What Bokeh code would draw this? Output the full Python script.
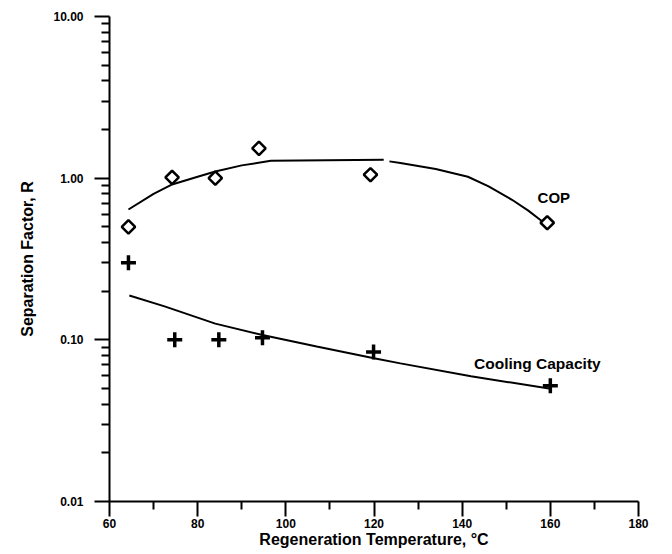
from bokeh.plotting import figure
from bokeh.models import FixedTicker, PrintfTickFormatter, Range1d
from bokeh.embed import file_html
from bokeh.resources import INLINE
from bokeh.core.properties import value

# ---- data ----
cop_x = [64.3, 74.2, 84.0, 93.9, 119.2, 159.3]
cop_y = [0.50, 1.01, 1.00, 1.53, 1.05, 0.53]

cc_x = [64.3, 74.8, 84.8, 94.7, 119.9, 160.0]
cc_y = [0.30, 0.100, 0.100, 0.103, 0.084, 0.052]

cop_fit_a_x = [64.3, 70.0, 74.0, 80.0, 84.0, 90.0, 96.6, 122.2]
cop_fit_a_y = [0.64, 0.80, 0.91, 1.02, 1.10, 1.20, 1.28, 1.30]
cop_fit_b_x = [123.5, 126.0, 134.0, 141.3, 146.0, 151.3, 155.0, 158.2]
cop_fit_b_y = [1.27, 1.24, 1.14, 1.02, 0.89, 0.735, 0.63, 0.54]

cc_fit_x = [64.5, 72.5, 84.0, 94.7, 107.0, 120.0, 126.0, 142.0, 159.7]
cc_fit_y = [0.188, 0.161, 0.126, 0.107, 0.091, 0.077, 0.0715, 0.0595, 0.050]

x_ticks = [60, 80, 100, 120, 140, 160, 180]
x_minor = [70, 90, 110, 130, 150, 170]
y_ticks = [0.01, 0.1, 1.0, 10.0]
y_minor = [m * d for d in (0.01, 0.1, 1.0) for m in range(2, 10)]

FONT = "Liberation Sans"

p = figure(width=660, height=551, y_axis_type="log",
           x_range=Range1d(60, 180), y_range=Range1d(0.01, 10),
           output_backend="svg", toolbar_location=None,
           min_border_left=109, min_border_right=22,
           min_border_top=16, min_border_bottom=50)
p.outline_line_color = None
p.grid.visible = False
p.background_fill_color = "white"

for ax in (p.xaxis[0], p.yaxis[0]):
    ax.axis_line_width = 2
    ax.axis_line_color = "black"
    ax.major_tick_line_width = 2
    ax.minor_tick_line_width = 2
    ax.major_tick_in = 0
    ax.minor_tick_in = 0
    ax.major_tick_out = 15
    ax.minor_tick_out = 8
    ax.major_label_text_font = FONT
    ax.major_label_text_font_style = "bold"
    ax.major_label_text_font_size = "12px"
    ax.major_label_text_color = "black"
    ax.axis_label_text_font = FONT
    ax.axis_label_text_font_style = "bold"
    ax.axis_label_text_font_size = "16px"
    ax.axis_label_text_color = "black"

p.xaxis.ticker = FixedTicker(ticks=x_ticks, minor_ticks=x_minor)
p.yaxis.ticker = FixedTicker(ticks=y_ticks, minor_ticks=y_minor)
p.yaxis.formatter = PrintfTickFormatter(format="%.2f")
p.xaxis.axis_label = "Regeneration Temperature, °C"
p.yaxis.axis_label = "Separation Factor, R"
p.xaxis.major_label_standoff = 2
p.xaxis.axis_label_standoff = 0
p.yaxis.major_label_standoff = 11
p.yaxis.axis_label_standoff = 14

# fitted curves
p.line(cop_fit_a_x, cop_fit_a_y, line_color="black", line_width=2)
p.line(cop_fit_b_x, cop_fit_b_y, line_color="black", line_width=2)
p.line(cc_fit_x, cc_fit_y, line_color="black", line_width=2)

# markers
p.scatter(cop_x, cop_y, marker="square", angle=0.785398, size=9.5,
          fill_color="white", line_color="black", line_width=2.5)
p.scatter(cc_x, cc_y, marker="cross", size=15,
          line_color="black", line_width=3.5)

# labels
p.text(x=[157.1], y=[0.755], text=["COP"], text_font=value(FONT),
       text_font_style="bold", text_font_size="15px",
       text_baseline="middle", text_color="black")
p.text(x=[142.7], y=[0.0713], text=["Cooling Capacity"], text_font=value(FONT),
       text_font_style="bold", text_font_size="15.5px",
       text_baseline="middle", text_color="black")

open("out.html", "w").write(file_html(p, INLINE))
